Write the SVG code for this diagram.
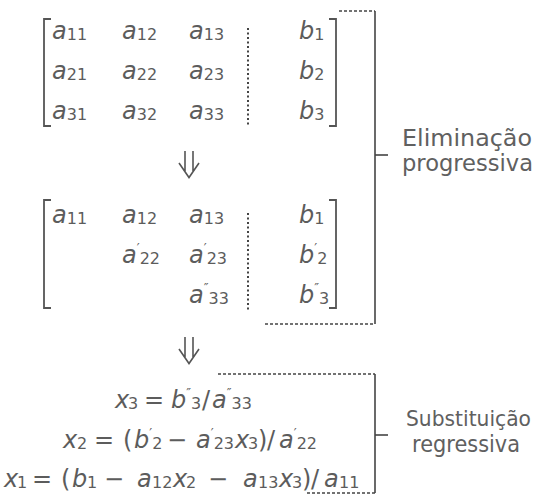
<svg xmlns="http://www.w3.org/2000/svg" width="535" height="496" viewBox="0 0 535 496">
<style>
text{font-family:"DejaVu Sans","Liberation Sans",sans-serif;fill:#5c5c5c}
.v{font-style:italic;font-size:24px}
.s{font-style:normal;font-size:16px}
.o{font-style:normal;font-size:24px}
.p{font-style:normal;font-size:13px}
.lbl{font-size:23px;fill:#606060}
.lbl2{font-size:20.5px;fill:#606060}
.br{fill:none;stroke:#555;stroke-width:1.8}
.dot{fill:none;stroke:#444;stroke-width:2;stroke-dasharray:2 2.5}
.dash{fill:none;stroke:#444;stroke-width:1.6;stroke-dasharray:3 2}
.solid{fill:none;stroke:#444;stroke-width:1.6}
.arr{fill:none;stroke:#555;stroke-width:1.6}
</style>
<rect width="535" height="496" fill="#fff"/>

<g id="matrix1">
<path class="br" d="M51,19 H44 V126 H51"/>
<path class="br" d="M329,19 H336 V126 H329"/>
<path class="dot" d="M248,28 V125"/>
<text class="v" x="52" y="39">a<tspan class="s" y="40">11</tspan></text>
<text class="v" x="122" y="39">a<tspan class="s" y="40">12</tspan></text>
<text class="v" x="189" y="39">a<tspan class="s" y="40">13</tspan></text>
<text class="v" x="299" y="39">b<tspan class="s" y="40">1</tspan></text>
<text class="v" x="52" y="79">a<tspan class="s" y="80">21</tspan></text>
<text class="v" x="122" y="79">a<tspan class="s" y="80">22</tspan></text>
<text class="v" x="189" y="79">a<tspan class="s" y="80">23</tspan></text>
<text class="v" x="299" y="79">b<tspan class="s" y="80">2</tspan></text>
<text class="v" x="52" y="119">a<tspan class="s" y="120">31</tspan></text>
<text class="v" x="122" y="119">a<tspan class="s" y="120">32</tspan></text>
<text class="v" x="189" y="119">a<tspan class="s" y="120">33</tspan></text>
<text class="v" x="299" y="119">b<tspan class="s" y="120">3</tspan></text>
</g>

<g id="arrow1">
<path class="arr" d="M185,151 V171 M193,151 V171 M179,163 L189,177.5 L199,163"/>
</g>

<g id="matrix2">
<path class="br" d="M51,200 H44 V308 H51"/>
<path class="br" d="M329,200 H336 V308 H329"/>
<path class="dot" d="M248,213 V312"/>
<text class="v" x="52" y="223">a<tspan class="s" y="224">11</tspan></text>
<text class="v" x="122" y="223">a<tspan class="s" y="224">12</tspan></text>
<text class="v" x="189" y="223">a<tspan class="s" y="224">13</tspan></text>
<text class="v" x="299" y="223">b<tspan class="s" y="224">1</tspan></text>
<text class="v" x="122" y="263">a<tspan class="p" y="252">′</tspan><tspan class="s" y="264">22</tspan></text>
<text class="v" x="189" y="263">a<tspan class="p" y="252">′</tspan><tspan class="s" y="264">23</tspan></text>
<text class="v" x="299" y="263">b<tspan class="p" y="252">′</tspan><tspan class="s" y="264">2</tspan></text>
<text class="v" x="189" y="303">a<tspan class="p" y="292">″</tspan><tspan class="s" y="304">33</tspan></text>
<text class="v" x="299" y="303">b<tspan class="p" y="292">″</tspan><tspan class="s" y="304">3</tspan></text>
</g>

<g id="arrow2">
<path class="arr" d="M185,337 V357 M193,337 V357 M179,349 L189,363.5 L199,349"/>
</g>

<g id="equations">
<text class="v" y="408"><tspan x="115">x</tspan><tspan class="s" x="128" y="409">3</tspan><tspan class="o" x="144" y="408">=</tspan><tspan x="171" y="408">b</tspan><tspan class="p" y="397">″</tspan><tspan class="s" y="409">3</tspan><tspan class="o" x="202" y="408">/</tspan><tspan x="212" y="408">a</tspan><tspan class="p" y="397">″</tspan><tspan class="s" y="409">33</tspan></text>

<text class="v" y="448"><tspan x="63">x</tspan><tspan class="s" x="77" y="449">2</tspan><tspan class="o" x="94" y="448">=</tspan><tspan class="o" x="123" y="448">(</tspan><tspan x="134" y="448">b</tspan><tspan class="p" y="437">′</tspan><tspan class="s" y="449">2</tspan><tspan class="o" x="167" y="448">−</tspan><tspan x="196" y="448">a</tspan><tspan class="p" y="437">′</tspan><tspan class="s" y="449">23</tspan><tspan x="235" y="448">x</tspan><tspan class="s" x="248" y="449">3</tspan><tspan class="o" x="258" y="448">)</tspan><tspan class="o" x="267" y="448">/</tspan><tspan x="279" y="448">a</tspan><tspan class="p" y="437">′</tspan><tspan class="s" y="449">22</tspan></text>

<text class="v" y="487"><tspan x="4">x</tspan><tspan class="s" x="17" y="488">1</tspan><tspan class="o" x="32" y="487">=</tspan><tspan class="o" x="61" y="487">(</tspan><tspan x="72" y="487">b</tspan><tspan class="s" x="87" y="488">1</tspan><tspan class="o" x="104" y="487">−</tspan><tspan x="137" y="487">a</tspan><tspan class="s" x="152" y="488">12</tspan><tspan x="173" y="487">x</tspan><tspan class="s" x="186" y="488">2</tspan><tspan class="o" x="208" y="487">−</tspan><tspan x="243" y="487">a</tspan><tspan class="s" x="258" y="488">13</tspan><tspan x="279" y="487">x</tspan><tspan class="s" x="292" y="488">3</tspan><tspan class="o" x="302" y="487">)</tspan><tspan class="o" x="311" y="487">/</tspan><tspan x="324" y="487">a</tspan><tspan class="s" x="339" y="488">11</tspan></text>
</g>

<g id="connectors">
<path class="dash" d="M339,11 H375"/>
<path class="solid" d="M375,11 V324"/>
<path class="dash" d="M265,324 H375"/>
<path class="solid" d="M375,155 H388"/>
<path class="dash" d="M218,374 H375"/>
<path class="solid" d="M375,374 V493"/>
<path class="dash" d="M307,493 H375"/>
<path class="solid" d="M375,435 H388"/>
</g>

<g id="label-elim">
<text class="lbl" x="402" y="146" textLength="130" lengthAdjust="spacingAndGlyphs">Eliminação</text>
<text class="lbl" x="402" y="171" textLength="131" lengthAdjust="spacingAndGlyphs">progressiva</text>
</g>
<g id="label-subs">
<text class="lbl2" x="406" y="426" textLength="125" lengthAdjust="spacingAndGlyphs">Substituição</text>
<text class="lbl" x="412" y="452" textLength="108" lengthAdjust="spacingAndGlyphs">regressiva</text>
</g>
</svg>
